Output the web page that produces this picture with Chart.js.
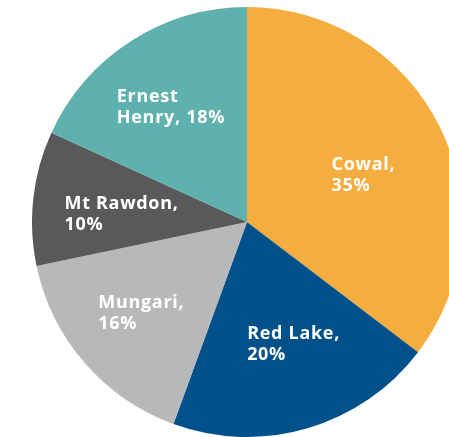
<!DOCTYPE html>
<html>
<head>
<meta charset="utf-8">
<script src="https://cdn.jsdelivr.net/npm/chart.js@4"></script>
<style>
html,body{margin:0;padding:0;background:#fff;overflow:hidden;width:449px;height:437px;}
#wrap{position:absolute;left:32px;top:7px;width:430px;height:430px;}
</style>
</head>
<body>
<div id="wrap"><canvas id="c" width="430" height="430"></canvas></div>
<script>
const categories = ["Cowal", "Red Lake", "Mungari", "Mt Rawdon", "Ernest Henry"];
const values = [35, 20, 16, 10, 18];
const labelLines = [["Cowal,", "35%"], ["Red Lake,", "20%"], ["Mungari,", "16%"], ["Mt Rawdon,", "10%"], ["Ernest", "Henry, 18%"]];
const colors = ["#F4AD3E", "#00518A", "#B7B8BA", "#58595B", "#5FB1AD"];

const labelPlugin = {
  id: "sliceLabels",
  afterDatasetsDraw(chart, args, opts) {
    const ctx = chart.ctx;
    const meta = chart.getDatasetMeta(0);
    ctx.save();
    ctx.fillStyle = "#ffffff";
    ctx.font = "bold 18px 'Open Sans', sans-serif";
    if ('letterSpacing' in ctx) ctx.letterSpacing = "0.7px";
    ctx.textBaseline = "alphabetic";
    ctx.textAlign = "left";
    const lh = 21;
    meta.data.forEach((arc, i) => {
      const p = arc.getProps(["x","y","startAngle","endAngle","outerRadius"], true);
      const mid = (p.startAngle + p.endAngle) / 2;
      const r = p.outerRadius * 0.62;
      const nudge = opts.nudge[i];
      const cx = p.x + Math.cos(mid) * r + nudge[0];
      const cy = p.y + Math.sin(mid) * r + nudge[1];
      const lines = labelLines[i];
      const w = Math.max(...lines.map(l => ctx.measureText(l).width));
      const left = cx - w / 2;
      const top = cy - lh * lines.length / 2;
      lines.forEach((l, k) => {
        ctx.fillText(l, left, top + lh * (k + 1) - 4);
      });
    });
    ctx.restore();
  }
};

new Chart(document.getElementById("c"), {
  type: "pie",
  data: {
    labels: categories,
    datasets: [{
      data: values,
      backgroundColor: colors,
      borderWidth: 0
    }]
  },
  options: {
    responsive: false,
    animation: false,
    layout: { padding: 0 },
    plugins: {
      legend: { display: false },
      tooltip: { enabled: false },
      sliceLabels: { nudge: [[-3, 11], [9, -7], [-5, 3], [7, 6], [-4, -4]] }
    }
  },
  plugins: [labelPlugin]
});
</script>
</body>
</html>
